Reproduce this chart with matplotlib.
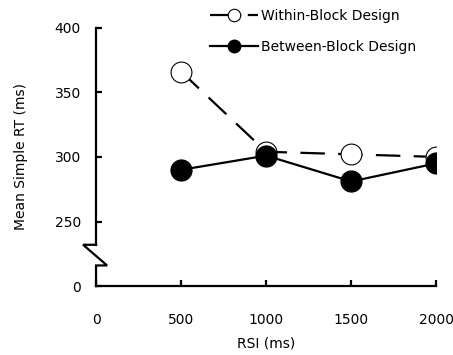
import matplotlib.pyplot as plt
from matplotlib.lines import Line2D

# data
rsi = [500, 1000, 1500, 2000]
within_rt = [366, 304, 302, 300]
between_rt = [290, 301, 281, 295]

# y axis is broken: 0 sits one step below 250
ytick_pos = [200, 250, 300, 350, 400]
ytick_labels = ['0', '250', '300', '350', '400']
xticks = [0, 500, 1000, 1500, 2000]

plt.rcParams['font.family'] = ['DejaVu Sans']

fig = plt.figure(figsize=(4.53, 3.55), dpi=100)
ax = fig.add_axes([0.212, 0.194, 0.751, 0.728])

ax.plot(rsi, within_rt, color='black', lw=1.6, ls=(0, (11, 6)),
        marker='o', ms=15, mfc='white', mec='black', mew=0.8, zorder=3)
ax.plot(rsi, between_rt, color='black', lw=1.6,
        marker='o', ms=15, mfc='black', mec='black', zorder=4)

ax.set_xlim(0, 2000)
ax.set_ylim(200, 400)
ax.set_xticks(xticks)
ax.set_yticks(ytick_pos)
ax.set_yticklabels(ytick_labels)

for s in ['top', 'right']:
    ax.spines[s].set_visible(False)
for s in ['left', 'bottom']:
    ax.spines[s].set_linewidth(1.6)
ax.spines['left'].set_bounds(232, 400)

# zigzag break
ax.plot([0, -76, 65, 0, 0], [232, 232, 216, 216, 200], color='black',
        lw=1.6, clip_on=False, solid_joinstyle='miter')

ax.tick_params(axis='both', direction='in', length=4, width=1.6, labelsize=10)
ax.tick_params(axis='x', pad=19)
ax.tick_params(axis='y', pad=11)

ax.set_xlabel('RSI (ms)', fontsize=10, labelpad=7)
ax.set_ylabel('Mean Simple RT (ms)', fontsize=10, labelpad=19)

handles = [
    Line2D([], [], color='black', lw=1.6, ls=(0, (14, 3)), marker='o', ms=9,
           mfc='white', mec='black', mew=0.8),
    Line2D([], [], color='black', lw=1.6, marker='o', ms=9,
           mfc='black', mec='black'),
]
fig.legend(handles, ['Within-Block Design', 'Between-Block Design'],
           loc='upper left', bbox_to_anchor=(0.435, 1.01), frameon=False,
           fontsize=10, handlelength=3.5, handletextpad=0.2, labelspacing=1.2)

fig.savefig('out.png', dpi=100)
